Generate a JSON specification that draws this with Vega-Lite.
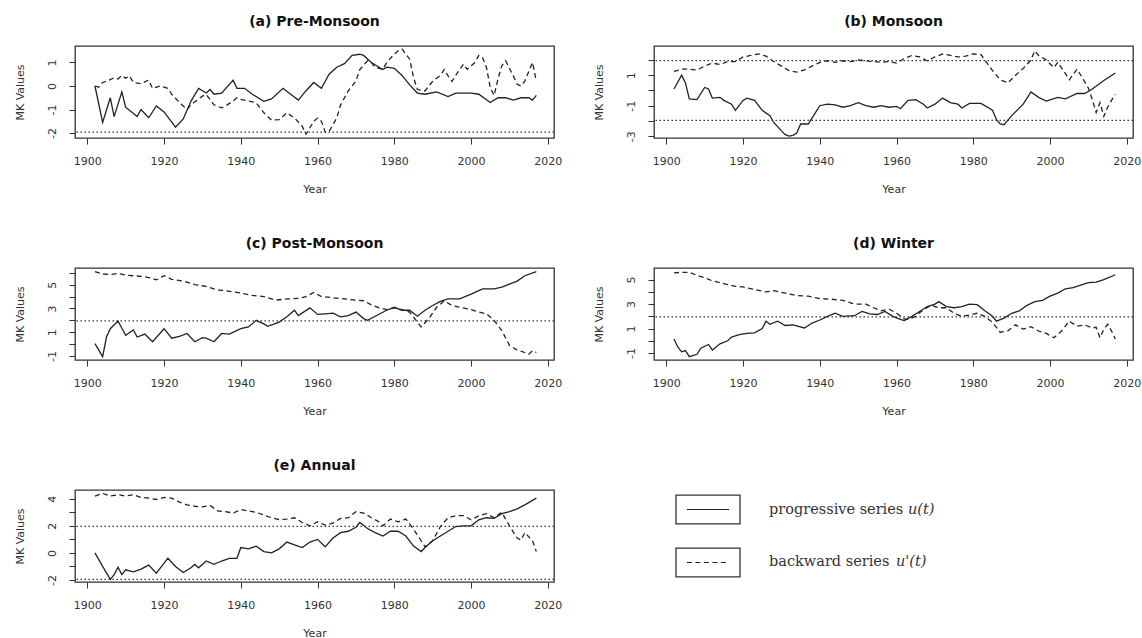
{
"$schema":"https://vega.github.io/schema/vega-lite/v6.json",
"background":"white",
"padding":{"left":13,"top":14,"right":0,"bottom":0},
"columns":2,
"spacing":{"row":130,"column":100},
"bounds":"flush",
"datasets":{
"a":[
{"x":1902,"s":"u","y":0},{"x":1904,"s":"u","y":-1.55},{"x":1906,"s":"u","y":-0.5},{"x":1907,"s":"u","y":-1.3},{"x":1909,"s":"u","y":-0.25},{"x":1910,"s":"u","y":-0.9},{"x":1913,"s":"u","y":-1.3},{"x":1914,"s":"u","y":-1.0},{"x":1916,"s":"u","y":-1.35},{"x":1918,"s":"u","y":-0.85},{"x":1920,"s":"u","y":-1.1},{"x":1923,"s":"u","y":-1.75},{"x":1925,"s":"u","y":-1.4},{"x":1927,"s":"u","y":-0.65},{"x":1929,"s":"u","y":-0.1},{"x":1931,"s":"u","y":-0.3},{"x":1932,"s":"u","y":-0.15},{"x":1933,"s":"u","y":-0.35},{"x":1935,"s":"u","y":-0.3},{"x":1938,"s":"u","y":0.25},{"x":1939,"s":"u","y":-0.1},{"x":1941,"s":"u","y":-0.1},{"x":1943,"s":"u","y":-0.35},{"x":1946,"s":"u","y":-0.65},{"x":1948,"s":"u","y":-0.55},{"x":1951,"s":"u","y":-0.1},{"x":1953,"s":"u","y":-0.35},{"x":1955,"s":"u","y":-0.6},{"x":1957,"s":"u","y":-0.2},{"x":1959,"s":"u","y":0.15},{"x":1961,"s":"u","y":-0.1},{"x":1963,"s":"u","y":0.5},{"x":1965,"s":"u","y":0.8},{"x":1967,"s":"u","y":0.95},{"x":1969,"s":"u","y":1.3},{"x":1971,"s":"u","y":1.35},{"x":1972,"s":"u","y":1.3},{"x":1974,"s":"u","y":1.0},{"x":1977,"s":"u","y":0.7},{"x":1978,"s":"u","y":0.8},{"x":1980,"s":"u","y":0.75},{"x":1982,"s":"u","y":0.45},{"x":1984,"s":"u","y":0.05},{"x":1986,"s":"u","y":-0.3},{"x":1988,"s":"u","y":-0.35},{"x":1991,"s":"u","y":-0.25},{"x":1994,"s":"u","y":-0.45},{"x":1996,"s":"u","y":-0.3},{"x":2000,"s":"u","y":-0.3},{"x":2002,"s":"u","y":-0.35},{"x":2005,"s":"u","y":-0.7},{"x":2007,"s":"u","y":-0.5},{"x":2009,"s":"u","y":-0.5},{"x":2011,"s":"u","y":-0.6},{"x":2013,"s":"u","y":-0.5},{"x":2015,"s":"u","y":-0.5},{"x":2016,"s":"u","y":-0.6},{"x":2017,"s":"u","y":-0.4},
{"x":1902,"s":"b","y":0},{"x":1903,"s":"b","y":-0.05},{"x":1904,"s":"b","y":0.15},{"x":1905,"s":"b","y":0.2},{"x":1907,"s":"b","y":0.35},{"x":1908,"s":"b","y":0.3},{"x":1909,"s":"b","y":0.45},{"x":1910,"s":"b","y":0.33},{"x":1911,"s":"b","y":0.43},{"x":1912,"s":"b","y":0.15},{"x":1914,"s":"b","y":0.1},{"x":1916,"s":"b","y":0.25},{"x":1917,"s":"b","y":-0.1},{"x":1919,"s":"b","y":0.0},{"x":1921,"s":"b","y":-0.1},{"x":1922,"s":"b","y":-0.35},{"x":1924,"s":"b","y":-0.7},{"x":1926,"s":"b","y":-1.0},{"x":1927,"s":"b","y":-0.8},{"x":1929,"s":"b","y":-0.55},{"x":1930,"s":"b","y":-0.43},{"x":1931,"s":"b","y":-0.36},{"x":1933,"s":"b","y":-0.8},{"x":1935,"s":"b","y":-0.93},{"x":1936,"s":"b","y":-0.85},{"x":1938,"s":"b","y":-0.64},{"x":1939,"s":"b","y":-0.5},{"x":1940,"s":"b","y":-0.57},{"x":1942,"s":"b","y":-0.64},{"x":1944,"s":"b","y":-0.71},{"x":1946,"s":"b","y":-1.14},{"x":1948,"s":"b","y":-1.45},{"x":1950,"s":"b","y":-1.43},{"x":1952,"s":"b","y":-1.14},{"x":1954,"s":"b","y":-1.36},{"x":1956,"s":"b","y":-1.71},{"x":1957,"s":"b","y":-2.05},{"x":1959,"s":"b","y":-1.5},{"x":1960,"s":"b","y":-1.36},{"x":1961,"s":"b","y":-1.5},{"x":1962,"s":"b","y":-1.96},{"x":1963,"s":"b","y":-1.93},{"x":1965,"s":"b","y":-1.36},{"x":1966,"s":"b","y":-0.8},{"x":1968,"s":"b","y":-0.21},{"x":1970,"s":"b","y":0.21},{"x":1971,"s":"b","y":0.7},{"x":1973,"s":"b","y":1.07},{"x":1974,"s":"b","y":1.0},{"x":1975,"s":"b","y":0.79},{"x":1977,"s":"b","y":0.71},{"x":1978,"s":"b","y":1.0},{"x":1980,"s":"b","y":1.36},{"x":1981,"s":"b","y":1.5},{"x":1982,"s":"b","y":1.57},{"x":1984,"s":"b","y":1.14},{"x":1985,"s":"b","y":0.36},{"x":1986,"s":"b","y":-0.14},{"x":1988,"s":"b","y":-0.21},{"x":1989,"s":"b","y":0.0},{"x":1990,"s":"b","y":0.2},{"x":1992,"s":"b","y":0.45},{"x":1993,"s":"b","y":0.7},{"x":1994,"s":"b","y":0.43},{"x":1995,"s":"b","y":0.2},{"x":1997,"s":"b","y":0.7},{"x":1998,"s":"b","y":0.93},{"x":1999,"s":"b","y":0.71},{"x":2001,"s":"b","y":1.0},{"x":2002,"s":"b","y":1.3},{"x":2003,"s":"b","y":1.2},{"x":2004,"s":"b","y":0.79},{"x":2005,"s":"b","y":-0.07},{"x":2006,"s":"b","y":-0.4},{"x":2007,"s":"b","y":0.3},{"x":2008,"s":"b","y":0.86},{"x":2009,"s":"b","y":1.07},{"x":2011,"s":"b","y":0.43},{"x":2012,"s":"b","y":0.07},{"x":2013,"s":"b","y":0.0},{"x":2014,"s":"b","y":0.21},{"x":2016,"s":"b","y":1.0},{"x":2017,"s":"b","y":0.2}
],
"b":[
{"x":1902,"s":"u","y":0.1},{"x":1904,"s":"u","y":1.0},{"x":1905,"s":"u","y":0.5},{"x":1906,"s":"u","y":-0.55},{"x":1908,"s":"u","y":-0.6},{"x":1910,"s":"u","y":0.2},{"x":1911,"s":"u","y":0.1},{"x":1912,"s":"u","y":-0.5},{"x":1914,"s":"u","y":-0.45},{"x":1915,"s":"u","y":-0.65},{"x":1917,"s":"u","y":-0.9},{"x":1918,"s":"u","y":-1.3},{"x":1920,"s":"u","y":-0.65},{"x":1921,"s":"u","y":-0.5},{"x":1923,"s":"u","y":-0.65},{"x":1925,"s":"u","y":-1.3},{"x":1927,"s":"u","y":-1.65},{"x":1928,"s":"u","y":-2.1},{"x":1930,"s":"u","y":-2.65},{"x":1931,"s":"u","y":-2.9},{"x":1932,"s":"u","y":-3.0},{"x":1933,"s":"u","y":-2.95},{"x":1934,"s":"u","y":-2.8},{"x":1935,"s":"u","y":-2.2},{"x":1937,"s":"u","y":-2.2},{"x":1938,"s":"u","y":-1.8},{"x":1940,"s":"u","y":-1.0},{"x":1942,"s":"u","y":-0.9},{"x":1944,"s":"u","y":-0.95},{"x":1946,"s":"u","y":-1.1},{"x":1948,"s":"u","y":-1.0},{"x":1950,"s":"u","y":-0.8},{"x":1952,"s":"u","y":-1.0},{"x":1954,"s":"u","y":-1.1},{"x":1956,"s":"u","y":-1.0},{"x":1958,"s":"u","y":-1.1},{"x":1960,"s":"u","y":-1.05},{"x":1961,"s":"u","y":-1.2},{"x":1963,"s":"u","y":-0.65},{"x":1965,"s":"u","y":-0.6},{"x":1967,"s":"u","y":-0.9},{"x":1968,"s":"u","y":-1.15},{"x":1970,"s":"u","y":-0.9},{"x":1972,"s":"u","y":-0.5},{"x":1974,"s":"u","y":-0.8},{"x":1976,"s":"u","y":-0.9},{"x":1977,"s":"u","y":-1.15},{"x":1979,"s":"u","y":-0.85},{"x":1982,"s":"u","y":-0.85},{"x":1985,"s":"u","y":-1.3},{"x":1986,"s":"u","y":-1.9},{"x":1987,"s":"u","y":-2.2},{"x":1988,"s":"u","y":-2.25},{"x":1990,"s":"u","y":-1.65},{"x":1993,"s":"u","y":-0.9},{"x":1995,"s":"u","y":-0.1},{"x":1997,"s":"u","y":-0.45},{"x":1999,"s":"u","y":-0.7},{"x":2002,"s":"u","y":-0.45},{"x":2004,"s":"u","y":-0.55},{"x":2007,"s":"u","y":-0.2},{"x":2009,"s":"u","y":-0.2},{"x":2011,"s":"u","y":0.1},{"x":2014,"s":"u","y":0.65},{"x":2017,"s":"u","y":1.15},
{"x":1902,"s":"b","y":1.25},{"x":1904,"s":"b","y":1.4},{"x":1906,"s":"b","y":1.4},{"x":1908,"s":"b","y":1.35},{"x":1910,"s":"b","y":1.6},{"x":1912,"s":"b","y":1.8},{"x":1914,"s":"b","y":1.7},{"x":1916,"s":"b","y":1.9},{"x":1918,"s":"b","y":1.9},{"x":1920,"s":"b","y":2.2},{"x":1922,"s":"b","y":2.3},{"x":1924,"s":"b","y":2.4},{"x":1926,"s":"b","y":2.25},{"x":1928,"s":"b","y":1.9},{"x":1930,"s":"b","y":1.6},{"x":1932,"s":"b","y":1.3},{"x":1934,"s":"b","y":1.2},{"x":1936,"s":"b","y":1.35},{"x":1938,"s":"b","y":1.6},{"x":1940,"s":"b","y":1.85},{"x":1942,"s":"b","y":1.95},{"x":1944,"s":"b","y":1.85},{"x":1946,"s":"b","y":1.95},{"x":1948,"s":"b","y":1.9},{"x":1950,"s":"b","y":2.0},{"x":1952,"s":"b","y":1.95},{"x":1954,"s":"b","y":1.9},{"x":1956,"s":"b","y":1.85},{"x":1958,"s":"b","y":1.9},{"x":1960,"s":"b","y":1.8},{"x":1962,"s":"b","y":2.1},{"x":1964,"s":"b","y":2.3},{"x":1966,"s":"b","y":2.2},{"x":1968,"s":"b","y":1.95},{"x":1970,"s":"b","y":2.2},{"x":1972,"s":"b","y":2.4},{"x":1974,"s":"b","y":2.3},{"x":1976,"s":"b","y":2.2},{"x":1978,"s":"b","y":2.25},{"x":1980,"s":"b","y":2.4},{"x":1982,"s":"b","y":2.35},{"x":1983,"s":"b","y":2.0},{"x":1985,"s":"b","y":1.3},{"x":1987,"s":"b","y":0.7},{"x":1989,"s":"b","y":0.5},{"x":1991,"s":"b","y":1.0},{"x":1993,"s":"b","y":1.45},{"x":1995,"s":"b","y":2.0},{"x":1996,"s":"b","y":2.6},{"x":1997,"s":"b","y":2.3},{"x":1999,"s":"b","y":2.0},{"x":2001,"s":"b","y":1.5},{"x":2002,"s":"b","y":1.85},{"x":2004,"s":"b","y":1.1},{"x":2005,"s":"b","y":0.7},{"x":2007,"s":"b","y":1.4},{"x":2008,"s":"b","y":1.0},{"x":2010,"s":"b","y":0.15},{"x":2011,"s":"b","y":-0.6},{"x":2012,"s":"b","y":-1.45},{"x":2013,"s":"b","y":-0.8},{"x":2014,"s":"b","y":-1.7},{"x":2015,"s":"b","y":-1.1},{"x":2016,"s":"b","y":-0.65},{"x":2017,"s":"b","y":-0.25}
],
"c":[
{"x":1902,"s":"u","y":0.05},{"x":1904,"s":"u","y":-1.05},{"x":1905,"s":"u","y":0.6},{"x":1906,"s":"u","y":1.3},{"x":1908,"s":"u","y":1.95},{"x":1910,"s":"u","y":0.75},{"x":1912,"s":"u","y":1.2},{"x":1913,"s":"u","y":0.6},{"x":1915,"s":"u","y":0.85},{"x":1917,"s":"u","y":0.2},{"x":1920,"s":"u","y":1.3},{"x":1922,"s":"u","y":0.5},{"x":1924,"s":"u","y":0.65},{"x":1926,"s":"u","y":0.9},{"x":1928,"s":"u","y":0.2},{"x":1930,"s":"u","y":0.55},{"x":1931,"s":"u","y":0.5},{"x":1933,"s":"u","y":0.2},{"x":1935,"s":"u","y":0.9},{"x":1937,"s":"u","y":0.85},{"x":1940,"s":"u","y":1.3},{"x":1942,"s":"u","y":1.45},{"x":1944,"s":"u","y":2.0},{"x":1946,"s":"u","y":1.7},{"x":1947,"s":"u","y":1.5},{"x":1950,"s":"u","y":1.85},{"x":1952,"s":"u","y":2.3},{"x":1954,"s":"u","y":2.85},{"x":1955,"s":"u","y":2.4},{"x":1958,"s":"u","y":3.05},{"x":1960,"s":"u","y":2.5},{"x":1962,"s":"u","y":2.55},{"x":1964,"s":"u","y":2.6},{"x":1966,"s":"u","y":2.3},{"x":1968,"s":"u","y":2.4},{"x":1970,"s":"u","y":2.7},{"x":1972,"s":"u","y":2.15},{"x":1973,"s":"u","y":2.0},{"x":1975,"s":"u","y":2.35},{"x":1978,"s":"u","y":2.85},{"x":1980,"s":"u","y":3.1},{"x":1982,"s":"u","y":2.85},{"x":1984,"s":"u","y":2.85},{"x":1986,"s":"u","y":2.35},{"x":1988,"s":"u","y":2.85},{"x":1990,"s":"u","y":3.25},{"x":1992,"s":"u","y":3.6},{"x":1994,"s":"u","y":3.8},{"x":1997,"s":"u","y":3.8},{"x":2000,"s":"u","y":4.2},{"x":2003,"s":"u","y":4.65},{"x":2006,"s":"u","y":4.65},{"x":2008,"s":"u","y":4.8},{"x":2010,"s":"u","y":5.05},{"x":2012,"s":"u","y":5.3},{"x":2014,"s":"u","y":5.75},{"x":2017,"s":"u","y":6.1},
{"x":1902,"s":"b","y":6.1},{"x":1904,"s":"b","y":5.9},{"x":1906,"s":"b","y":5.85},{"x":1908,"s":"b","y":5.95},{"x":1910,"s":"b","y":5.8},{"x":1912,"s":"b","y":5.75},{"x":1914,"s":"b","y":5.7},{"x":1916,"s":"b","y":5.6},{"x":1918,"s":"b","y":5.4},{"x":1920,"s":"b","y":5.75},{"x":1922,"s":"b","y":5.45},{"x":1925,"s":"b","y":5.3},{"x":1928,"s":"b","y":5.0},{"x":1931,"s":"b","y":4.85},{"x":1934,"s":"b","y":4.55},{"x":1936,"s":"b","y":4.5},{"x":1940,"s":"b","y":4.3},{"x":1943,"s":"b","y":4.1},{"x":1946,"s":"b","y":4.0},{"x":1949,"s":"b","y":3.7},{"x":1952,"s":"b","y":3.8},{"x":1955,"s":"b","y":3.85},{"x":1957,"s":"b","y":4.0},{"x":1959,"s":"b","y":4.35},{"x":1961,"s":"b","y":4.0},{"x":1964,"s":"b","y":3.9},{"x":1967,"s":"b","y":3.8},{"x":1970,"s":"b","y":3.7},{"x":1972,"s":"b","y":3.65},{"x":1974,"s":"b","y":3.3},{"x":1976,"s":"b","y":3.05},{"x":1978,"s":"b","y":2.9},{"x":1980,"s":"b","y":3.05},{"x":1982,"s":"b","y":2.9},{"x":1984,"s":"b","y":2.7},{"x":1986,"s":"b","y":1.85},{"x":1987,"s":"b","y":1.45},{"x":1989,"s":"b","y":2.15},{"x":1991,"s":"b","y":3.1},{"x":1993,"s":"b","y":3.65},{"x":1995,"s":"b","y":3.25},{"x":1997,"s":"b","y":3.1},{"x":2000,"s":"b","y":2.9},{"x":2002,"s":"b","y":2.7},{"x":2004,"s":"b","y":2.55},{"x":2006,"s":"b","y":2.0},{"x":2008,"s":"b","y":1.15},{"x":2010,"s":"b","y":-0.1},{"x":2012,"s":"b","y":-0.5},{"x":2014,"s":"b","y":-0.7},{"x":2015,"s":"b","y":-0.85},{"x":2016,"s":"b","y":-0.55},{"x":2017,"s":"b","y":-0.7}
],
"d":[
{"x":1902,"s":"u","y":0.15},{"x":1903,"s":"u","y":-0.5},{"x":1904,"s":"u","y":-0.9},{"x":1905,"s":"u","y":-0.8},{"x":1906,"s":"u","y":-1.3},{"x":1908,"s":"u","y":-1.1},{"x":1909,"s":"u","y":-0.6},{"x":1911,"s":"u","y":-0.3},{"x":1912,"s":"u","y":-0.75},{"x":1914,"s":"u","y":-0.25},{"x":1916,"s":"u","y":0.0},{"x":1917,"s":"u","y":0.3},{"x":1919,"s":"u","y":0.5},{"x":1921,"s":"u","y":0.6},{"x":1923,"s":"u","y":0.65},{"x":1925,"s":"u","y":1.0},{"x":1926,"s":"u","y":1.6},{"x":1927,"s":"u","y":1.35},{"x":1929,"s":"u","y":1.6},{"x":1931,"s":"u","y":1.25},{"x":1933,"s":"u","y":1.3},{"x":1936,"s":"u","y":1.05},{"x":1938,"s":"u","y":1.45},{"x":1940,"s":"u","y":1.7},{"x":1942,"s":"u","y":2.0},{"x":1944,"s":"u","y":2.25},{"x":1946,"s":"u","y":2.0},{"x":1949,"s":"u","y":2.05},{"x":1951,"s":"u","y":2.4},{"x":1953,"s":"u","y":2.2},{"x":1955,"s":"u","y":2.15},{"x":1957,"s":"u","y":2.4},{"x":1959,"s":"u","y":2.0},{"x":1961,"s":"u","y":1.75},{"x":1962,"s":"u","y":1.65},{"x":1964,"s":"u","y":2.0},{"x":1966,"s":"u","y":2.4},{"x":1968,"s":"u","y":2.8},{"x":1970,"s":"u","y":3.0},{"x":1971,"s":"u","y":3.2},{"x":1973,"s":"u","y":2.8},{"x":1975,"s":"u","y":2.7},{"x":1977,"s":"u","y":2.8},{"x":1979,"s":"u","y":3.0},{"x":1981,"s":"u","y":2.95},{"x":1983,"s":"u","y":2.45},{"x":1985,"s":"u","y":2.0},{"x":1986,"s":"u","y":1.6},{"x":1988,"s":"u","y":1.85},{"x":1990,"s":"u","y":2.25},{"x":1992,"s":"u","y":2.45},{"x":1994,"s":"u","y":2.9},{"x":1996,"s":"u","y":3.2},{"x":1998,"s":"u","y":3.3},{"x":2000,"s":"u","y":3.65},{"x":2002,"s":"u","y":3.9},{"x":2004,"s":"u","y":4.25},{"x":2006,"s":"u","y":4.35},{"x":2008,"s":"u","y":4.55},{"x":2010,"s":"u","y":4.75},{"x":2012,"s":"u","y":4.8},{"x":2014,"s":"u","y":5.0},{"x":2017,"s":"u","y":5.4},
{"x":1902,"s":"b","y":5.55},{"x":1904,"s":"b","y":5.6},{"x":1906,"s":"b","y":5.6},{"x":1908,"s":"b","y":5.35},{"x":1910,"s":"b","y":5.15},{"x":1912,"s":"b","y":4.9},{"x":1914,"s":"b","y":4.75},{"x":1916,"s":"b","y":4.6},{"x":1918,"s":"b","y":4.45},{"x":1920,"s":"b","y":4.4},{"x":1923,"s":"b","y":4.2},{"x":1926,"s":"b","y":4.0},{"x":1928,"s":"b","y":4.1},{"x":1931,"s":"b","y":3.9},{"x":1934,"s":"b","y":3.7},{"x":1937,"s":"b","y":3.65},{"x":1940,"s":"b","y":3.45},{"x":1943,"s":"b","y":3.4},{"x":1946,"s":"b","y":3.3},{"x":1949,"s":"b","y":3.0},{"x":1952,"s":"b","y":3.0},{"x":1954,"s":"b","y":2.7},{"x":1956,"s":"b","y":2.45},{"x":1958,"s":"b","y":2.6},{"x":1960,"s":"b","y":2.25},{"x":1962,"s":"b","y":1.8},{"x":1963,"s":"b","y":1.75},{"x":1965,"s":"b","y":2.0},{"x":1967,"s":"b","y":2.55},{"x":1969,"s":"b","y":2.9},{"x":1971,"s":"b","y":2.7},{"x":1973,"s":"b","y":2.7},{"x":1975,"s":"b","y":2.25},{"x":1977,"s":"b","y":2.0},{"x":1979,"s":"b","y":2.1},{"x":1981,"s":"b","y":2.25},{"x":1983,"s":"b","y":2.0},{"x":1985,"s":"b","y":1.5},{"x":1987,"s":"b","y":0.7},{"x":1989,"s":"b","y":0.8},{"x":1991,"s":"b","y":1.3},{"x":1993,"s":"b","y":0.95},{"x":1995,"s":"b","y":1.15},{"x":1997,"s":"b","y":0.8},{"x":1999,"s":"b","y":0.6},{"x":2001,"s":"b","y":0.25},{"x":2003,"s":"b","y":0.8},{"x":2005,"s":"b","y":1.6},{"x":2007,"s":"b","y":1.2},{"x":2009,"s":"b","y":1.3},{"x":2011,"s":"b","y":1.05},{"x":2012,"s":"b","y":1.1},{"x":2013,"s":"b","y":0.25},{"x":2014,"s":"b","y":0.95},{"x":2015,"s":"b","y":1.35},{"x":2016,"s":"b","y":0.8},{"x":2017,"s":"b","y":0.15}
],
"e":[
{"x":1902,"s":"u","y":0},{"x":1904,"s":"u","y":-1.0},{"x":1906,"s":"u","y":-1.95},{"x":1907,"s":"u","y":-1.6},{"x":1908,"s":"u","y":-1.05},{"x":1909,"s":"u","y":-1.6},{"x":1910,"s":"u","y":-1.25},{"x":1912,"s":"u","y":-1.4},{"x":1914,"s":"u","y":-1.2},{"x":1916,"s":"u","y":-0.9},{"x":1918,"s":"u","y":-1.5},{"x":1920,"s":"u","y":-0.75},{"x":1921,"s":"u","y":-0.4},{"x":1923,"s":"u","y":-1.0},{"x":1925,"s":"u","y":-1.45},{"x":1927,"s":"u","y":-1.1},{"x":1928,"s":"u","y":-0.85},{"x":1929,"s":"u","y":-1.1},{"x":1931,"s":"u","y":-0.6},{"x":1933,"s":"u","y":-0.85},{"x":1935,"s":"u","y":-0.6},{"x":1937,"s":"u","y":-0.4},{"x":1939,"s":"u","y":-0.4},{"x":1940,"s":"u","y":0.4},{"x":1942,"s":"u","y":0.3},{"x":1944,"s":"u","y":0.5},{"x":1946,"s":"u","y":0.1},{"x":1948,"s":"u","y":0.0},{"x":1950,"s":"u","y":0.3},{"x":1952,"s":"u","y":0.8},{"x":1954,"s":"u","y":0.6},{"x":1956,"s":"u","y":0.4},{"x":1958,"s":"u","y":0.8},{"x":1960,"s":"u","y":1.0},{"x":1962,"s":"u","y":0.45},{"x":1964,"s":"u","y":1.1},{"x":1966,"s":"u","y":1.5},{"x":1968,"s":"u","y":1.6},{"x":1970,"s":"u","y":1.9},{"x":1971,"s":"u","y":2.25},{"x":1973,"s":"u","y":1.8},{"x":1975,"s":"u","y":1.5},{"x":1977,"s":"u","y":1.25},{"x":1979,"s":"u","y":1.6},{"x":1981,"s":"u","y":1.6},{"x":1983,"s":"u","y":1.25},{"x":1985,"s":"u","y":0.5},{"x":1987,"s":"u","y":0.1},{"x":1988,"s":"u","y":0.4},{"x":1990,"s":"u","y":0.9},{"x":1992,"s":"u","y":1.25},{"x":1994,"s":"u","y":1.6},{"x":1996,"s":"u","y":1.95},{"x":1998,"s":"u","y":2.0},{"x":2000,"s":"u","y":2.0},{"x":2002,"s":"u","y":2.45},{"x":2004,"s":"u","y":2.6},{"x":2006,"s":"u","y":2.55},{"x":2008,"s":"u","y":2.9},{"x":2010,"s":"u","y":3.05},{"x":2012,"s":"u","y":3.25},{"x":2014,"s":"u","y":3.55},{"x":2017,"s":"u","y":4.05},
{"x":1902,"s":"b","y":4.2},{"x":1904,"s":"b","y":4.4},{"x":1906,"s":"b","y":4.2},{"x":1908,"s":"b","y":4.3},{"x":1910,"s":"b","y":4.2},{"x":1912,"s":"b","y":4.3},{"x":1914,"s":"b","y":4.1},{"x":1916,"s":"b","y":4.05},{"x":1918,"s":"b","y":3.95},{"x":1920,"s":"b","y":4.1},{"x":1922,"s":"b","y":4.05},{"x":1924,"s":"b","y":3.75},{"x":1926,"s":"b","y":3.55},{"x":1928,"s":"b","y":3.45},{"x":1930,"s":"b","y":3.4},{"x":1932,"s":"b","y":3.5},{"x":1934,"s":"b","y":3.1},{"x":1936,"s":"b","y":3.05},{"x":1938,"s":"b","y":2.95},{"x":1940,"s":"b","y":3.2},{"x":1942,"s":"b","y":3.1},{"x":1944,"s":"b","y":3.0},{"x":1946,"s":"b","y":2.8},{"x":1948,"s":"b","y":2.6},{"x":1950,"s":"b","y":2.45},{"x":1952,"s":"b","y":2.5},{"x":1954,"s":"b","y":2.6},{"x":1956,"s":"b","y":2.25},{"x":1958,"s":"b","y":2.0},{"x":1960,"s":"b","y":2.3},{"x":1962,"s":"b","y":2.05},{"x":1964,"s":"b","y":2.2},{"x":1966,"s":"b","y":2.55},{"x":1968,"s":"b","y":2.6},{"x":1970,"s":"b","y":3.05},{"x":1972,"s":"b","y":2.95},{"x":1974,"s":"b","y":2.6},{"x":1976,"s":"b","y":2.3},{"x":1977,"s":"b","y":2.0},{"x":1979,"s":"b","y":2.5},{"x":1981,"s":"b","y":2.3},{"x":1983,"s":"b","y":2.5},{"x":1985,"s":"b","y":1.75},{"x":1987,"s":"b","y":0.9},{"x":1988,"s":"b","y":0.45},{"x":1990,"s":"b","y":0.9},{"x":1992,"s":"b","y":1.95},{"x":1994,"s":"b","y":2.6},{"x":1996,"s":"b","y":2.75},{"x":1998,"s":"b","y":2.75},{"x":2000,"s":"b","y":2.45},{"x":2002,"s":"b","y":2.75},{"x":2004,"s":"b","y":2.9},{"x":2006,"s":"b","y":2.6},{"x":2008,"s":"b","y":3.0},{"x":2009,"s":"b","y":2.5},{"x":2010,"s":"b","y":2.0},{"x":2012,"s":"b","y":1.1},{"x":2013,"s":"b","y":0.95},{"x":2014,"s":"b","y":1.5},{"x":2016,"s":"b","y":0.9},{"x":2017,"s":"b","y":0.1}
]
},
"concat":[
{"width":479,"height":92,"title":"(a) Pre-Monsoon","data":{"name":"a"},
"layer":[
{"transform":[{"filter":"datum.s=='u'"}],"mark":{"type":"line","color":"#222","strokeWidth":1.3},"encoding":{"x":{"field":"x","type":"quantitative","scale":{"domain":[1896.8,2021.6],"nice":false,"zero":false},"axis":{"values":[1900,1920,1940,1960,1980,2000,2020],"tickCount":20,"labelExpr":"''+datum.value","title":"Year"}},"y":{"field":"y","type":"quantitative","scale":{"domain":[-2.21,1.7],"nice":false,"zero":false},"axis":{"values":[-2,-1,0,1],"tickCount":20,"labelExpr":"''+datum.value","title":"MK Values"}}}},
{"transform":[{"filter":"datum.s=='b'"}],"mark":{"type":"line","color":"#222","strokeWidth":1.3,"strokeDash":[5,3.5]},"encoding":{"x":{"field":"x","type":"quantitative"},"y":{"field":"y","type":"quantitative"}}},
{"data":{"values":[{"v":1.96},{"v":-1.96}]},"mark":{"type":"rule","clip":true,"strokeDash":[1.5,2.5],"color":"#333","strokeWidth":1.3},"encoding":{"y":{"field":"v","type":"quantitative"}}}
]},
{"width":479,"height":92,"title":"(b) Monsoon","data":{"name":"b"},
"layer":[
{"transform":[{"filter":"datum.s=='u'"}],"mark":{"type":"line","color":"#222","strokeWidth":1.3},"encoding":{"x":{"field":"x","type":"quantitative","scale":{"domain":[1896.8,2021.6],"nice":false,"zero":false},"axis":{"values":[1900,1920,1940,1960,1980,2000,2020],"tickCount":20,"labelExpr":"''+datum.value","title":"Year"}},"y":{"field":"y","type":"quantitative","scale":{"domain":[-3.12,2.92],"nice":false,"zero":false},"axis":{"values":[-3,-2,-1,0,1,2],"tickCount":20,"labelExpr":"datum.value % 2 != 0 ? ''+datum.value : ''","title":"MK Values"}}}},
{"transform":[{"filter":"datum.s=='b'"}],"mark":{"type":"line","color":"#222","strokeWidth":1.3,"strokeDash":[5,3.5]},"encoding":{"x":{"field":"x","type":"quantitative"},"y":{"field":"y","type":"quantitative"}}},
{"data":{"values":[{"v":1.96},{"v":-1.96}]},"mark":{"type":"rule","clip":true,"strokeDash":[1.5,2.5],"color":"#333","strokeWidth":1.3},"encoding":{"y":{"field":"v","type":"quantitative"}}}
]},
{"width":479,"height":92,"title":"(c) Post-Monsoon","data":{"name":"c"},
"layer":[
{"transform":[{"filter":"datum.s=='u'"}],"mark":{"type":"line","color":"#222","strokeWidth":1.3},"encoding":{"x":{"field":"x","type":"quantitative","scale":{"domain":[1896.8,2021.6],"nice":false,"zero":false},"axis":{"values":[1900,1920,1940,1960,1980,2000,2020],"tickCount":20,"labelExpr":"''+datum.value","title":"Year"}},"y":{"field":"y","type":"quantitative","scale":{"domain":[-1.33,6.4],"nice":false,"zero":false},"axis":{"values":[-1,0,1,2,3,4,5,6],"tickCount":20,"labelExpr":"datum.value % 2 != 0 ? ''+datum.value : ''","title":"MK Values"}}}},
{"transform":[{"filter":"datum.s=='b'"}],"mark":{"type":"line","color":"#222","strokeWidth":1.3,"strokeDash":[5,3.5]},"encoding":{"x":{"field":"x","type":"quantitative"},"y":{"field":"y","type":"quantitative"}}},
{"data":{"values":[{"v":1.96},{"v":-1.96}]},"mark":{"type":"rule","clip":true,"strokeDash":[1.5,2.5],"color":"#333","strokeWidth":1.3},"encoding":{"y":{"field":"v","type":"quantitative"}}}
]},
{"width":479,"height":92,"title":"(d) Winter","data":{"name":"d"},
"layer":[
{"transform":[{"filter":"datum.s=='u'"}],"mark":{"type":"line","color":"#222","strokeWidth":1.3},"encoding":{"x":{"field":"x","type":"quantitative","scale":{"domain":[1896.8,2021.6],"nice":false,"zero":false},"axis":{"values":[1900,1920,1940,1960,1980,2000,2020],"tickCount":20,"labelExpr":"''+datum.value","title":"Year"}},"y":{"field":"y","type":"quantitative","scale":{"domain":[-1.57,5.95],"nice":false,"zero":false},"axis":{"values":[-1,0,1,2,3,4,5],"tickCount":20,"labelExpr":"datum.value % 2 != 0 ? ''+datum.value : ''","title":"MK Values"}}}},
{"transform":[{"filter":"datum.s=='b'"}],"mark":{"type":"line","color":"#222","strokeWidth":1.3,"strokeDash":[5,3.5]},"encoding":{"x":{"field":"x","type":"quantitative"},"y":{"field":"y","type":"quantitative"}}},
{"data":{"values":[{"v":1.96},{"v":-1.96}]},"mark":{"type":"rule","clip":true,"strokeDash":[1.5,2.5],"color":"#333","strokeWidth":1.3},"encoding":{"y":{"field":"v","type":"quantitative"}}}
]},
{"width":479,"height":92,"title":"(e) Annual","data":{"name":"e"},
"layer":[
{"transform":[{"filter":"datum.s=='u'"}],"mark":{"type":"line","color":"#222","strokeWidth":1.3},"encoding":{"x":{"field":"x","type":"quantitative","scale":{"domain":[1896.8,2021.6],"nice":false,"zero":false},"axis":{"values":[1900,1920,1940,1960,1980,2000,2020],"tickCount":20,"labelExpr":"''+datum.value","title":"Year"}},"y":{"field":"y","type":"quantitative","scale":{"domain":[-2.15,4.65],"nice":false,"zero":false},"axis":{"values":[-2,-1,0,1,2,3,4],"tickCount":20,"labelExpr":"datum.value % 2 == 0 ? ''+datum.value : ''","title":"MK Values"}}}},
{"transform":[{"filter":"datum.s=='b'"}],"mark":{"type":"line","color":"#222","strokeWidth":1.3,"strokeDash":[5,3.5]},"encoding":{"x":{"field":"x","type":"quantitative"},"y":{"field":"y","type":"quantitative"}}},
{"data":{"values":[{"v":1.96},{"v":-1.96}]},"mark":{"type":"rule","clip":true,"strokeDash":[1.5,2.5],"color":"#333","strokeWidth":1.3},"encoding":{"y":{"field":"v","type":"quantitative"}}}
]},
{"width":169,"height":92,"view":{"stroke":null},
"data":{"values":[{"name":"progressive series","sym":"u(t)","s":"u"},{"name":"backward series","sym":"u'(t)","s":"b"}]},
"encoding":{"y":{"field":"name","type":"nominal","scale":{"type":"point","domain":["progressive series","backward series"],"padding":0.368},"axis":null}},
"layer":[
{"mark":{"type":"point","shape":"M-1,-0.45H1V0.45H-1Z","size":4096,"filled":false,"stroke":"#333","strokeWidth":1.3,"opacity":1},"encoding":{"x":{"datum":"box","type":"nominal","scale":{"type":"point","domain":["box","text"],"padding":0.885},"axis":null}}},
{"transform":[{"filter":"datum.s=='u'"}],"mark":{"type":"point","shape":"M-0.66,0H0.66","size":4096,"filled":false,"stroke":"#222","strokeWidth":1.2,"opacity":1},"encoding":{"x":{"datum":"box","type":"nominal"}}},
{"transform":[{"filter":"datum.s=='b'"}],"mark":{"type":"point","shape":"M-0.66,0H0.66","size":4096,"filled":false,"stroke":"#222","strokeWidth":1.2,"opacity":1,"strokeDash":[5,3.5]},"encoding":{"x":{"datum":"box","type":"nominal"}}},
{"mark":{"type":"text","align":"left","baseline":"middle","font":"DejaVu Serif","fontSize":14.5,"color":"#333"},"encoding":{"x":{"datum":"text","type":"nominal"},"text":{"field":"name"}}},
{"transform":[{"filter":"datum.s=='u'"}],"mark":{"type":"text","align":"left","baseline":"middle","font":"DejaVu Serif","fontSize":14.5,"fontStyle":"italic","color":"#333","dx":139},"encoding":{"x":{"datum":"text","type":"nominal"},"text":{"field":"sym"}}},
{"transform":[{"filter":"datum.s=='b'"}],"mark":{"type":"text","align":"left","baseline":"middle","font":"DejaVu Serif","fontSize":14.5,"fontStyle":"italic","color":"#333","dx":127},"encoding":{"x":{"datum":"text","type":"nominal"},"text":{"field":"sym"}}}
]}
],
"config":{
"font":"DejaVu Sans",
"view":{"stroke":"#333","strokeWidth":1.3},
"axis":{"grid":false,"domain":false,"tickColor":"#333","tickSize":6,"tickWidth":1,"labelFont":"DejaVu Sans","labelFontSize":11,"labelColor":"#333","titleFont":"DejaVu Sans","titleFontSize":11,"titleFontWeight":"normal","titleColor":"#333","labelOverlap":false},
"axisX":{"labelBaseline":"middle","labelPadding":17,"labelAngle":0,"titleY":51,"titleBaseline":"middle","labelFlush":false},
"axisY":{"labelAngle":-90,"labelAlign":"center","labelBaseline":"alphabetic","labelPadding":14,"titleX":-52,"titleAngle":-90,"titleBaseline":"alphabetic","titleAlign":"center","labelFlush":false},
"title":{"font":"DejaVu Sans","fontSize":14,"fontWeight":"bold","color":"#111","anchor":"middle","frame":"group","baseline":"alphabetic","offset":17}
}
}
